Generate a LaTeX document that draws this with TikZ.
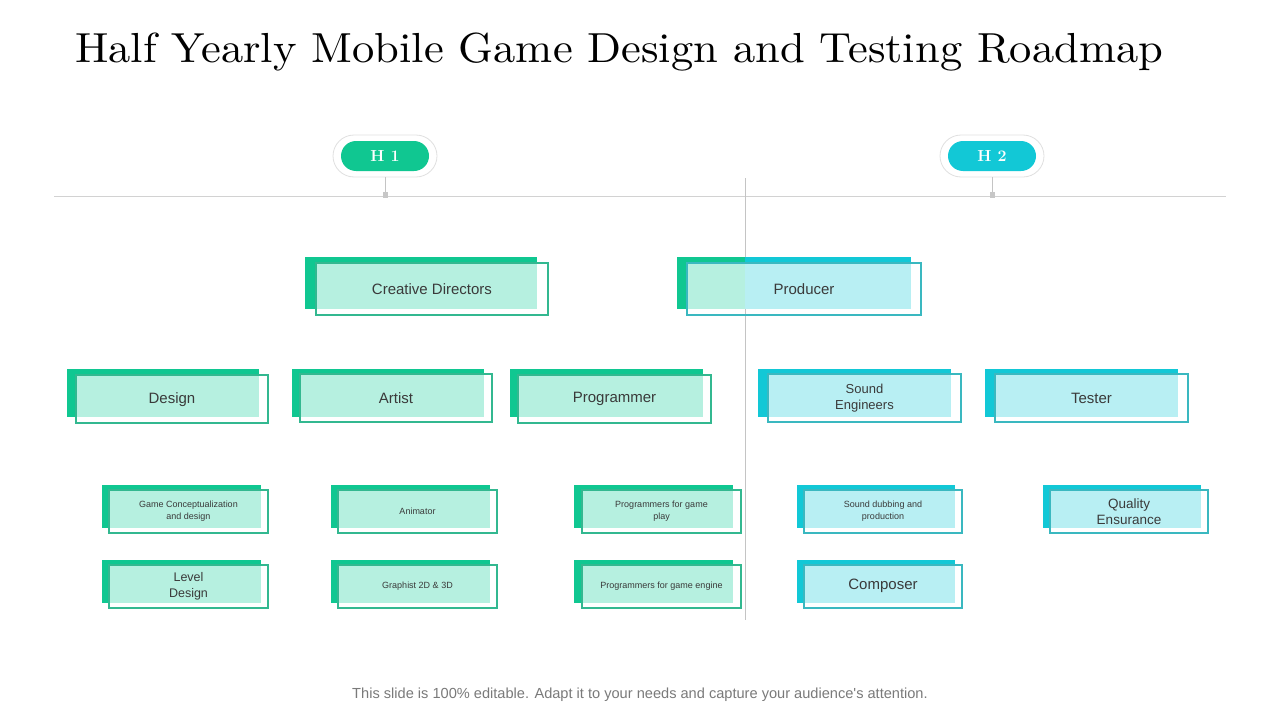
\documentclass[tikz,border=0pt]{standalone}
\usepackage{fontspec}
\newfontfamily\arial{Liberation Sans}
\newfontfamily\titlefont{lmroman10-regular}[Extension=.otf]
\usetikzlibrary{calc}
\definecolor{darkg}{HTML}{10C791}
\definecolor{lightg}{HTML}{B6F0E0}
\definecolor{lineg}{HTML}{33B890}
\definecolor{darkc}{HTML}{12C8D6}
\definecolor{lightc}{HTML}{B8EFF3}
\definecolor{linec}{HTML}{3AB8C0}
\definecolor{txt}{HTML}{3A3A3A}
\definecolor{rulec}{HTML}{D2D2D2}
\definecolor{vrule}{HTML}{C4C4C4}
\definecolor{foot}{HTML}{7A7A7A}
\tikzset{
  frontbox/.style={rectangle, line width=1.6pt, inner sep=0pt, align=center, text=txt,
     font=\arial\fontsize{15}{17}\selectfont},
  tinytxt/.style={font=\arial\fontsize{9}{11.5}\selectfont},
  engtxt/.style={font=\arial\fontsize{13}{16}\selectfont},
  qetxt/.style={font=\arial\fontsize{13.5}{16}\selectfont},
  lvltxt/.style={font=\arial\fontsize{12.5}{15.5}\selectfont},
  pillout/.style={rectangle, rounded corners=21pt, minimum width=104pt, minimum height=42pt,
     fill=white, draw=black!12, line width=0.8pt},
  pillin/.style={rectangle, rounded corners=15pt, minimum width=88pt, minimum height=30pt,
     text=white, font=\bfseries\fontsize{16}{16}\selectfont, inner sep=0pt},
}
% [#1 text style] #2 name, #3 x0, #4 y0, #5 w, #6 h, #7 dx, #8 scheme, #9 text
\newcommand{\rbox}[9][]{%
  \fill[dark#8] (#3,#4) rectangle ++(#5,#6);
  \fill[light#8] ({#3+#7},{#4+0.11*#6}) rectangle ({#3+#5},{#4+#6});
  \node[frontbox, draw=line#8, minimum width=#5pt, minimum height=#6pt, #1] (#2)
     at ({#3+#7+#5/2},{#4+0.11*#6+#6/2}) {#9};
}
\begin{document}
\begin{tikzpicture}[x=1pt,y=-1pt]
\useasboundingbox (0,0) rectangle (1280,720);
\fill[white] (0,0) rectangle (1280,720);

% title
\node[anchor=base west, inner sep=0pt, xscale=1.06, font=\titlefont\fontsize{42}{50}\selectfont] (title) at (75,62)
  {Half Yearly Mobile Game Design and Testing Roadmap};

% timeline lines
\coordinate (hl) at (54,196);
\coordinate (hr) at (1226,196);
\draw[rulec, line width=0.9pt] (hl) -- (hr);
\coordinate (vt) at (745,178);
\coordinate (vb) at (745,620);
\draw[vrule, line width=0.9pt] (vt) -- (vb);

% badges
\node[pillout] (h1o) at (385,156) {};
\node[pillin, fill=darkg] (h1) at (h1o.center) {H 1};
\node[pillout] (h2o) at (992,156) {};
\node[pillin, fill=darkc] (h2) at (h2o.center) {H 2};
\coordinate (h1b) at (385,196);
\coordinate (h2b) at (992,196);
\draw[vrule, line width=0.8pt] (h1o.south) -- (h1b);
\draw[vrule, line width=0.8pt] (h2o.south) -- (h2b);
\fill[black!22] ($(h1b)+(-2.5,-4)$) rectangle ($(h1b)+(2.5,2)$);
\fill[black!22] ($(h2b)+(-2.5,-4)$) rectangle ($(h2b)+(2.5,2)$);

% row 1
\rbox{cd}{305}{257}{232}{52}{11}{g}{Creative Directors}
\begin{scope}
  \clip (0,0) rectangle (745,720);
  \fill[darkg] (677,257) rectangle ++(234,52);
  \fill[lightg] (687,263) rectangle (911,309);
\end{scope}
\begin{scope}
  \clip (745,0) rectangle (1280,720);
  \fill[darkc] (677,257) rectangle ++(234,52);
  \fill[lightc] (687,263) rectangle (911,309);
\end{scope}
\node[frontbox, draw=linec, minimum width=234pt, minimum height=52pt] (prod)
  at ({687+117},{263+26}) {Producer};

% row 2
\rbox[yshift=-1pt]{design}{67}{369}{192}{48}{9}{g}{Design}
\rbox{artist}{292}{369}{192}{48}{8}{g}{Artist}
\rbox[yshift=-1pt]{prog}{510}{369}{193}{48}{8}{g}{Programmer}
\rbox[engtxt]{sound}{758}{369}{193}{48}{10}{c}{Sound\\Engineers}
\rbox{tester}{985}{369}{193}{48}{10}{c}{Tester}

% row 3
\rbox[tinytxt]{gcd}{102}{485}{159}{43}{7}{g}{Game Conceptualization\\and design}
\rbox[tinytxt]{anim}{331}{485}{159}{43}{7}{g}{Animator}
\rbox[tinytxt]{pgp}{574}{485}{159}{43}{8}{g}{Programmers for game\\play}
\rbox[tinytxt]{sdp}{797}{485}{158}{43}{7}{c}{Sound dubbing and\\production}
\rbox[qetxt]{qe}{1043}{485}{158}{43}{7}{c}{Quality\\Ensurance}

% row 4
\rbox[lvltxt]{lvl}{102}{560}{159}{43}{7}{g}{Level\\Design}
\rbox[tinytxt]{gra}{331}{560}{159}{43}{7}{g}{Graphist 2D \& 3D}
\rbox[tinytxt]{pge}{574}{560}{159}{43}{8}{g}{Programmers for game engine}
\rbox{comp}{797}{560}{158}{43}{7}{c}{Composer}

% footer
\node[font=\arial\fontsize{14.6}{16}\selectfont, text=foot, inner sep=0pt] (footer) at (640,695)
  {This slide is 100\% editable. Adapt it to your needs and capture your audience's attention.};
\end{tikzpicture}
\end{document}
